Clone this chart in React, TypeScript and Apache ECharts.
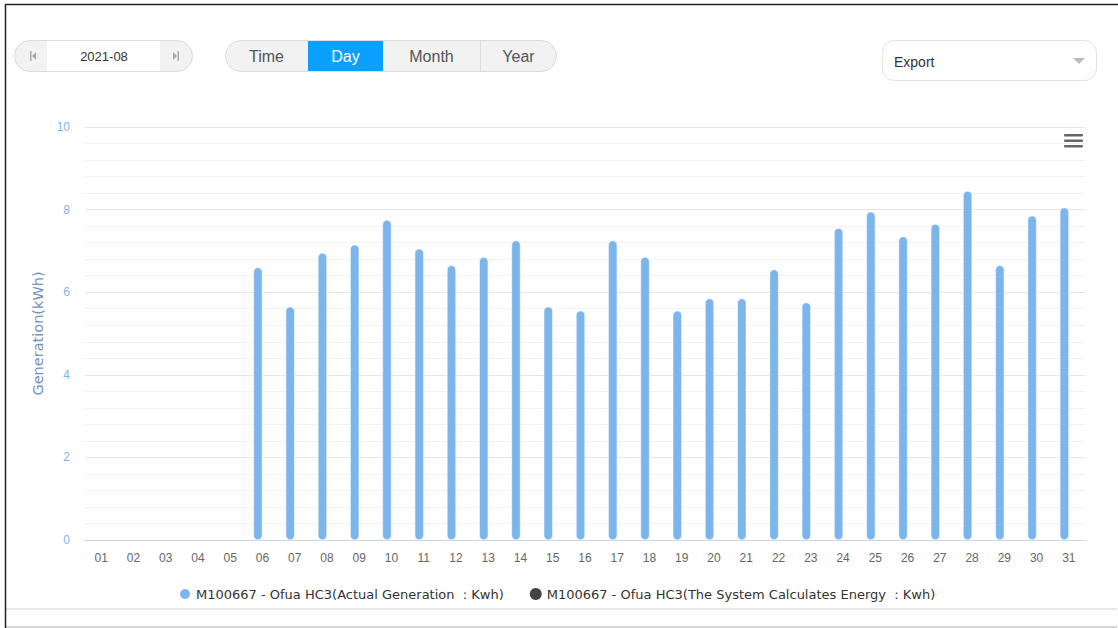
import React, { useEffect, useRef } from "react";
import * as echarts from "echarts";

const days = ["01","02","03","04","05","06","07","08","09","10","11","12","13","14","15","16","17","18","19","20","21","22","23","24","25","26","27","28","29","30","31"];
const actualGeneration = [null,null,null,null,null,6.6,5.65,6.95,7.15,7.75,7.05,6.65,6.85,7.25,5.65,5.55,7.25,6.85,5.55,5.85,5.85,6.55,5.75,7.55,7.95,7.35,7.65,8.45,6.65,7.85,8.05];
const systemEnergy: (number | null)[] = [];
const yTicks = { min: 0, max: 10, interval: 2 };
const seriesNames = ["M100667 - Ofua HC3(Actual Generation  : Kwh)", "M100667 - Ofua HC3(The System Calculates Energy  : Kwh)"];
const periodButtons = ["Time", "Day", "Month", "Year"];

export default function App() {
  const ref = useRef<HTMLDivElement>(null);
  useEffect(() => {
    const chart = echarts.init(ref.current!, null, { renderer: "svg" });
    const btnX = [225, 308, 383, 480, 557];
    const graphic: any[] = [
      // borders
      { type: "line", z: 10, shape: { x1: 5, y1: 609, x2: 1117, y2: 609 }, style: { stroke: "#e8e8e8", lineWidth: 2 } },
      { type: "line", z: 10, shape: { x1: 5, y1: 627, x2: 1117, y2: 627 }, style: { stroke: "#aaa", lineWidth: 1 } },
      { type: "line", z: 11, shape: { x1: 5, y1: 4.5, x2: 1118, y2: 4.5 }, style: { stroke: "#222", lineWidth: 1.5 } },
      { type: "line", z: 11, shape: { x1: 5.5, y1: 4, x2: 5.5, y2: 628 }, style: { stroke: "#222", lineWidth: 1.5 } },
      // date picker
      { type: "rect", shape: { x: 14.5, y: 40.5, width: 178, height: 31, r: 15.5 }, style: { fill: "#f2f2f2", stroke: "#dcdcdc", lineWidth: 1 } },
      { type: "rect", shape: { x: 47, y: 41, width: 113, height: 30 }, style: { fill: "#fff" } },
      { type: "text", style: { text: "2021-08", x: 104, y: 56.5, fill: "#333", fontSize: 13, fontFamily: "Liberation Sans, Arial", align: "center", verticalAlign: "middle" } },
      { type: "rect", shape: { x: 30, y: 51, width: 1.5, height: 10 }, style: { fill: "#aaa" } },
      { type: "polygon", shape: { points: [[36, 52], [36, 60], [32, 56]] }, style: { fill: "#aaa" } },
      { type: "polygon", shape: { points: [[173, 52], [173, 60], [177, 56]] }, style: { fill: "#aaa" } },
      { type: "rect", shape: { x: 177.5, y: 51, width: 1.5, height: 10 }, style: { fill: "#aaa" } },
      // segmented buttons
      { type: "rect", shape: { x: 225.5, y: 40.5, width: 331, height: 31, r: 15.5 }, style: { fill: "#f2f2f2", stroke: "#dcdcdc", lineWidth: 1 } },
      { type: "rect", shape: { x: 308, y: 41, width: 75, height: 30 }, style: { fill: "#0aa0ff" } },
      { type: "line", shape: { x1: 480.5, y1: 41, x2: 480.5, y2: 71 }, style: { stroke: "#dcdcdc", lineWidth: 1 } },
      ...periodButtons.map((t, i) => ({
        type: "text",
        style: { text: t, x: (btnX[i] + btnX[i + 1]) / 2, y: 56.5, fill: t === "Day" ? "#fff" : "#555", fontSize: 16, fontFamily: "Liberation Sans, Arial", align: "center", verticalAlign: "middle" },
      })),
      // export select
      { type: "rect", shape: { x: 882.5, y: 40.5, width: 214, height: 40, r: 12 }, style: { fill: "#fff", stroke: "#e2e2e2", lineWidth: 1 } },
      { type: "text", style: { text: "Export", x: 894, y: 61.5, fill: "#333", fontSize: 14, fontFamily: "Liberation Sans, Arial", align: "left", verticalAlign: "middle" } },
      { type: "polygon", shape: { points: [[1073, 58], [1085, 58], [1079, 64]] }, style: { fill: "#bbb" } },
      // hamburger menu
      { type: "rect", shape: { x: 1064, y: 134, width: 19, height: 2.6, r: 1 }, style: { fill: "#666" } },
      { type: "rect", shape: { x: 1064, y: 139.5, width: 19, height: 2.6, r: 1 }, style: { fill: "#666" } },
      { type: "rect", shape: { x: 1064, y: 145, width: 19, height: 2.6, r: 1 }, style: { fill: "#666" } },
    ];
    chart.setOption({
      animation: false,
      backgroundColor: "#fff",
      graphic,
      grid: { left: 85, right: 33, top: 127, bottom: 88 },
      legend: {
        bottom: 22,
        left: 173,
        icon: "circle",
        itemWidth: 12,
        itemHeight: 12,
        itemGap: 26,
        textStyle: { color: "#333", fontSize: 13, fontFamily: "DejaVu Sans, Verdana" },
        data: seriesNames,
      },
      xAxis: {
        type: "category",
        data: days,
        boundaryGap: true,
        axisLine: { lineStyle: { color: "#ccd6eb" } },
        axisTick: { show: false },
        axisLabel: { color: "#666", fontSize: 12, margin: 12, interval: 0, fontFamily: "Liberation Sans, Arial" },
      },
      yAxis: {
        type: "value",
        min: yTicks.min,
        max: yTicks.max,
        interval: yTicks.interval,
        name: "Generation(kWh)",
        nameLocation: "middle",
        nameGap: 40,
        nameTextStyle: { color: "#7393bd", fontSize: 14.5, fontFamily: "DejaVu Sans, Verdana" },
        axisLine: { show: false },
        axisTick: { show: false },
        axisLabel: { color: "#86b2ea", fontSize: 12, margin: 15, fontFamily: "Liberation Sans, Arial" },
        splitLine: { lineStyle: { color: "#e6e6e6" } },
        minorTick: { show: false, splitNumber: 5 },
        minorSplitLine: { show: true, lineStyle: { color: "#f2f2f2" } },
      },
      series: [
        {
          name: seriesNames[0],
          type: "bar",
          data: actualGeneration,
          barWidth: 9,
          barGap: "0%",
          itemStyle: { color: "#7cb5ec", borderRadius: 4.5, borderColor: "#fff", borderWidth: 0.5 },
        },
        {
          name: seriesNames[1],
          type: "bar",
          data: systemEnergy,
          barWidth: 9,
          barGap: "0%",
          itemStyle: { color: "#434348" },
        },
      ],
    });
    return () => chart.dispose();
  }, []);
  return <div ref={ref} style={{ position: "fixed", left: 0, top: 0, width: 1118, height: 628 }} />;
}
